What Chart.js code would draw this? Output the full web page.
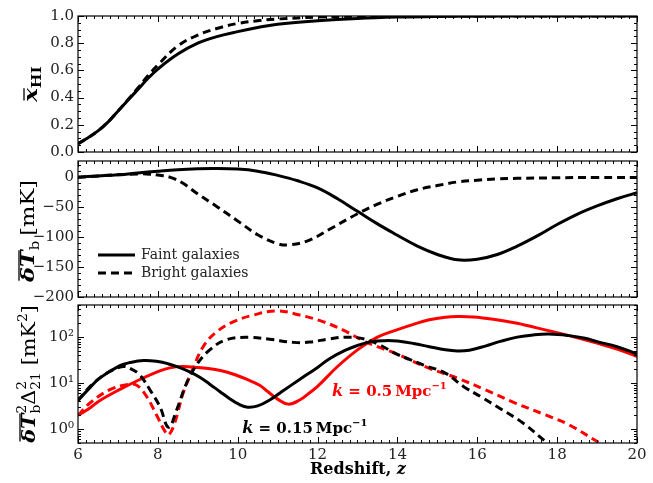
<!DOCTYPE html>
<html><head><meta charset="utf-8">
<script src="https://cdn.jsdelivr.net/npm/chart.js@4/dist/chart.umd.min.js"></script>
<style>
html,body{margin:0;padding:0;background:#fff;}
#wrap{position:relative;width:653px;height:483px;background:#fff;}
canvas{position:absolute;left:0;top:0;}
</style></head><body>
<div id="wrap">
<canvas id="c1" width="653" height="483"></canvas>
<canvas id="c2" width="653" height="483"></canvas>
<canvas id="c3" width="653" height="483"></canvas>
</div>
<script>
// ---------------- DATA ----------------
const zTicks = [6, 8, 10, 12, 14, 16, 18, 20];
const xhiTicks = [0, 0.2, 0.4, 0.6, 0.8, 1.0];
const dTbTicks = [0, -50, -100, -150, -200];
const powTicks = [1, 10, 100];
const powLabels = ['10\u2070', '10\u00B9', '10\u00B2'];

// Panel 1: neutral fraction
const zXhi = [6,6.25,6.5,6.75,7,7.25,7.5,7.75,8,8.5,9,9.5,10,10.5,11,12,13,14,15,16,18,20];
const xhiFaint  = [0.06,0.105,0.155,0.22,0.30,0.38,0.46,0.54,0.61,0.72,0.80,0.85,0.885,0.915,0.94,0.965,0.982,0.992,0.997,0.999,1.0,1.0];
const xhiBright = [0.06,0.105,0.155,0.22,0.30,0.385,0.47,0.56,0.64,0.78,0.86,0.91,0.945,0.965,0.978,0.992,0.998,1.0,1.0,1.0,1.0,1.0];

// Panel 2: mean brightness temperature [mK]
const zTbFaint = [6,6.5,7,7.5,8,8.5,9,9.4,10,10.5,11,11.5,12,12.5,13,13.5,14,14.5,15,15.5,16,16.5,17,17.5,18,18.5,19,19.5,20];
const tbFaint  = [0,2,4,7,10,12.5,14,14.5,13.5,10,3,-6,-18,-36,-57,-78,-97,-115,-129,-138,-137,-129,-115,-98,-79,-62,-48,-36,-26];
const zTbBright = [6,6.5,7,7.5,7.8,8,8.3,8.6,9,9.5,10,10.5,11,11.3,11.8,12.3,13,13.5,14,14.5,15,15.5,16,16.5,17,18,19,20];
const tbBright  = [0,2,4,5.5,5,3.5,0,-9,-28,-50,-73,-96,-111,-113,-105,-87,-61,-45,-32,-21,-14,-8,-5,-3,-2,-1,-0.5,-0.5];

// Panel 3: power spectra [mK^2]
const zPkFaint015 = [6,6.3,6.55,7.05,7.3,7.65,8,8.25,8.5,8.8,9.05,9.3,9.55,9.8,10.05,10.25,10.5,10.8,11.1,11.55,12,12.3,12.7,13,13.35,13.7,14,14.4,14.8,15.2,15.5,15.8,16.2,16.6,17,17.4,17.8,18.3,18.7,19,19.5,20];
const pkFaint015  = [4.2,8,13,24,28,31,29.5,26.5,22.5,17.5,13.5,9.5,6.6,4.6,3.4,3.0,3.2,4.3,6.5,12,22,34,52,66,80,84,82,73,62,53,50,52,64,82,100,112,117,108,95,80,62,43];
const zPkFaint05 = [6,6.3,6.55,7.05,7.55,8.05,8.3,8.6,9,9.4,9.72,10,10.22,10.55,10.75,11,11.27,11.55,11.8,12,12.5,13,13.5,13.93,14.4,14.8,15.2,15.5,15.9,16.2,16.6,17,17.7,18.3,19,19.5,20];
const pkFaint05  = [2.0,2.9,4.2,7.3,12,18.5,21.5,23,22,20,17.5,14.5,12.2,9,6.6,4.5,3.5,4.3,6.2,8.5,23,53,100,139,190,238,270,280,275,258,230,200,144,108,74,55,38];
const zPkBright015 = [6,6.3,6.55,6.8,7.13,7.35,7.55,7.8,8.05,8.27,8.47,8.72,8.97,9.3,9.72,10.3,10.8,11.4,11.8,12.3,12.72,13.2,13.6,13.93,14.3,14.64,15.2,15.66,16.1,16.49,17.15,17.77,18.3];
const pkBright015  = [4.2,8.4,13,18,23,20,15,7.2,3.1,1.1,2.6,10,25,53,88,99,90,77,78,92,100,90,65,45,33,25,16.5,8.4,5,3.1,1.35,0.5,0.28];
const zPkBright05 = [6,6.3,6.8,7.22,7.47,7.72,7.97,8.18,8.27,8.42,8.63,8.85,9.14,9.48,9.9,10.4,10.97,11.55,12.13,12.63,13.13,13.5,13.93,14.8,15.5,16.2,16.95,17.7,18.3,19.07,19.5,20];
const pkBright05  = [2.0,3.7,7.2,9.2,9,5.1,2.0,0.89,0.75,1.35,6,18,63,132,218,303,373,303,218,144,85,62,45,21,12.9,7.2,3.7,2.05,1.24,0.5,0.33,0.2];

const legendLabels = ['Faint galaxies', 'Bright galaxies'];

// ---------------- HELPERS ----------------
const SERIF = "'DejaVu Serif', 'Liberation Serif', serif";
const pts = (xs, ys) => xs.map((x, i) => ({x, y: ys[i]}));
const DASH = [8, 5];

function lineDS(xs, ys, color, dashed, mode) {
  return {
    data: pts(xs, ys), borderColor: color, borderWidth: 3,
    borderDash: dashed ? DASH : [], pointRadius: 0, fill: false,
    tension: 0.4, cubicInterpolationMode: mode || 'default',
    borderCapStyle: 'butt', borderJoinStyle: 'round'
  };
}

function segWidth(ctx, s) {
  if (s.t !== undefined) { ctx.font = s.f; return ctx.measureText(s.t).width + (s.gap || 0); }
  let w = 0;
  ctx.font = s.f;
  if (s.sup) w = Math.max(w, ctx.measureText(s.sup).width);
  if (s.sub) w = Math.max(w, ctx.measureText(s.sub).width);
  return w + (s.gap || 0);
}

function drawRich(ctx, segs, x, y, o) {
  o = o || {};
  ctx.save();
  ctx.translate(x, y);
  if (o.rotate) ctx.rotate(-Math.PI / 2);
  ctx.scale(o.stretch || 1, 1);
  ctx.fillStyle = o.color || '#000';
  ctx.strokeStyle = o.color || '#000';
  ctx.textBaseline = 'alphabetic';
  ctx.textAlign = 'left';
  const widths = segs.map(s => segWidth(ctx, s));
  const total = widths.reduce((a, b) => a + b, 0);
  let cx = o.align === 'left' ? 0 : -total / 2;
  segs.forEach((s, i) => {
    ctx.font = s.f;
    if (s.t !== undefined) {
      ctx.fillText(s.t, cx, s.dy || 0);
      if (s.over) {
        const w = ctx.measureText(s.t).width;
        ctx.lineWidth = 1.3;
        ctx.beginPath();
        ctx.moveTo(cx + 1, -s.over); ctx.lineTo(cx + w, -s.over); ctx.stroke();
      }
    } else {
      if (s.sup) ctx.fillText(s.sup, cx, s.supDy);
      if (s.sub) ctx.fillText(s.sub, cx, s.subDy);
    }
    cx += widths[i];
  });
  ctx.restore();
}

// inner ticks + frame
const frameTicks = {
  id: 'frameTicks',
  afterDatasetsDraw(chart, args, opts) {
    const {ctx, chartArea: a, scales: {x, y}} = chart;
    ctx.save();
    ctx.strokeStyle = '#000';
    ctx.lineWidth = 1;
    const majL = 6, minL = 3;
    const tick = (px, vert, len) => {
      ctx.beginPath();
      if (vert) {
        ctx.moveTo(px, a.bottom); ctx.lineTo(px, a.bottom - len);
        ctx.moveTo(px, a.top); ctx.lineTo(px, a.top + len);
      } else {
        ctx.moveTo(a.left, px); ctx.lineTo(a.left + len, px);
        ctx.moveTo(a.right, px); ctx.lineTo(a.right - len, px);
      }
      ctx.stroke();
    };
    for (let v = x.min; v <= x.max + 1e-9; v += 0.2) {
      const isMaj = Math.abs(v / 2 - Math.round(v / 2)) < 1e-6;
      tick(Math.round(x.getPixelForValue(v)) + 0.5, true, isMaj ? majL : minL);
    }
    if (opts.log) {
      for (let d = -1; d <= 3; d++) for (let m = 1; m <= 9; m++) {
        const v = m * Math.pow(10, d);
        if (v < y.min || v > y.max) continue;
        tick(Math.round(y.getPixelForValue(v)) + 0.5, false, m === 1 ? majL : minL);
      }
    } else {
      const n = Math.round((y.max - y.min) / opts.minor);
      for (let i = 0; i <= n; i++) {
        const v = opts.start + i * opts.minor;
        if (v < y.min - 1e-9 || v > y.max + 1e-9) continue;
        const isMaj = Math.abs(v / opts.major - Math.round(v / opts.major)) < 1e-6;
        tick(Math.round(y.getPixelForValue(v)) + 0.5, false, isMaj ? majL : minL);
      }
    }
    ctx.lineWidth = 1.2;
    ctx.strokeRect(a.left, a.top, a.right - a.left, a.bottom - a.top);
    ctx.restore();
  }
};

const extras = {
  id: 'extras',
  afterDraw(chart, args, opts) {
    if (opts.draw) opts.draw(chart, chart.ctx);
  }
};

function makeChart(id, datasets, pad, yScale, xShow, tickOpts, drawFn) {
  return new Chart(document.getElementById(id), {
    type: 'line',
    data: {datasets},
    plugins: [frameTicks, extras],
    options: {
      responsive: false, animation: false, devicePixelRatio: 1,
      events: [],
      layout: {padding: pad},
      plugins: {legend: {display: false}, tooltip: {enabled: false},
        frameTicks: tickOpts, extras: {draw: drawFn}},
      scales: {
        x: {
          type: 'linear', min: 6, max: 20,
          afterBuildTicks: s => { s.ticks = zTicks.map(v => ({value: v})); },
          afterFit: s => { s.height = xShow ? 40 : 0; },
          grid: {display: false, drawTicks: false},
          border: {display: false},
          ticks: {display: xShow, font: {family: SERIF, size: 15}, color: '#222', padding: 3, maxRotation: 0}
        },
        y: Object.assign({
          afterFit: s => { s.width = 78; },
          grid: {display: false, drawTicks: false},
          border: {display: false}
        }, yScale)
      }
    }
  });
}

const tickFont = {family: SERIF, size: 15};

// -------- Panel 1 --------
makeChart('c1', [
  lineDS(zXhi, xhiFaint, '#000', false),
  lineDS(zXhi, xhiBright, '#000', true)
], {left: 0, right: 16, top: 16, bottom: 331}, {
  type: 'linear', min: 0, max: 1,
  afterBuildTicks: s => { s.ticks = xhiTicks.map(v => ({value: v})); },
  ticks: {font: tickFont, color: '#222', padding: 4, callback: v => v.toFixed(1)}
}, false, {minor: 0.05, major: 0.2, start: 0}, (chart, ctx) => {
  const a = chart.chartArea;
  drawRich(ctx, [
    {t: 'x', f: `bold italic 19px ${SERIF}`, over: 13},
    {t: 'HI', f: `bold 13px ${SERIF}`, dy: 4}
  ], 37, (a.top + a.bottom) / 2, {rotate: true, stretch: 1.2});
});

// -------- Panel 2 --------
makeChart('c2', [
  lineDS(zTbFaint, tbFaint, '#000', false),
  lineDS(zTbBright, tbBright, '#000', true)
], {left: 0, right: 16, top: 161, bottom: 186}, {
  type: 'linear', min: -200, max: 27,
  afterBuildTicks: s => { s.ticks = dTbTicks.map(v => ({value: v})); },
  ticks: {font: tickFont, color: '#222', padding: 4, callback: v => (v < 0 ? '\u2212' + Math.abs(v) : String(v))}
}, false, {minor: 10, major: 50, start: -200}, (chart, ctx) => {
  const a = chart.chartArea;
  drawRich(ctx, [
    {t: '\u03B4T', f: `bold italic 18px ${SERIF}`, over: 15},
    {t: 'b', f: `12px ${SERIF}`, dy: 5, gap: 4},
    {t: '[mK]', f: `18px ${SERIF}`}
  ], 34, (a.top + a.bottom) / 2 + 2, {rotate: true, stretch: 1.25});
  ctx.save();
  ctx.strokeStyle = '#000'; ctx.lineWidth = 3; ctx.lineCap = 'butt';
  const lx0 = 98, lx1 = 135;
  ctx.beginPath(); ctx.moveTo(lx0, 255); ctx.lineTo(lx1, 255); ctx.stroke();
  ctx.setLineDash(DASH);
  ctx.beginPath(); ctx.moveTo(lx0, 273); ctx.lineTo(lx1 + 2, 273); ctx.stroke();
  ctx.setLineDash([]);
  ctx.fillStyle = '#222';
  ctx.font = `14px ${SERIF}`;
  ctx.textBaseline = 'middle';
  ctx.fillText(legendLabels[0], 141, 255);
  ctx.fillText(legendLabels[1], 141, 273);
  ctx.restore();
});

// -------- Panel 3 --------
makeChart('c3', [
  lineDS(zPkFaint015, pkFaint015, '#000', false),
  lineDS(zPkBright015, pkBright015, '#000', true),
  lineDS(zPkFaint05, pkFaint05, '#ff0000', false),
  lineDS(zPkBright05, pkBright05, '#ff0000', true)
], {left: 0, right: 16, top: 305, bottom: 0}, {
  type: 'logarithmic', min: 0.5, max: 500,
  afterBuildTicks: s => { s.ticks = powTicks.map(v => ({value: v})); },
  ticks: {font: tickFont, color: '#222', padding: 4, callback: (v, i) => powLabels[powTicks.indexOf(v)] || ''}
}, true, {log: true}, (chart, ctx) => {
  const a = chart.chartArea, xs = chart.scales.x, ys = chart.scales.y;
  drawRich(ctx, [
    {t: '\u03B4T', f: `bold italic 18px ${SERIF}`, over: 15},
    {sup: '2', supDy: -9, sub: 'b', subDy: 5, f: `12px ${SERIF}`},
    {t: '\u0394', f: `18px ${SERIF}`},
    {sup: '2', supDy: -9, sub: '21', subDy: 5, f: `12px ${SERIF}`, gap: 6},
    {t: '[mK', f: `18px ${SERIF}`},
    {sup: '2', supDy: -8, f: `12px ${SERIF}`},
    {t: ']', f: `18px ${SERIF}`}
  ], 35, (a.top + a.bottom) / 2, {rotate: true, stretch: 1.15});
  const kSegs = (val) => [
    {t: 'k', f: `bold italic 16px ${SERIF}`},
    {t: ' = ' + val + '\u2009Mpc', f: `bold 15px ${SERIF}`},
    {sup: '\u22121', supDy: -7, f: `bold 10px ${SERIF}`}
  ];
  drawRich(ctx, kSegs('0.5'), xs.getPixelForValue(13.8), ys.getPixelForValue(7.1) + 6, {color: '#ff0000'});
  drawRich(ctx, kSegs('0.15'), xs.getPixelForValue(11.68), ys.getPixelForValue(1.12) + 6, {color: '#000'});
  drawRich(ctx, [
    {t: 'Redshift, ', f: `bold 16px ${SERIF}`},
    {t: 'z', f: `bold italic 16px ${SERIF}`}
  ], 358, 474, {});
});
</script>
</body></html>
